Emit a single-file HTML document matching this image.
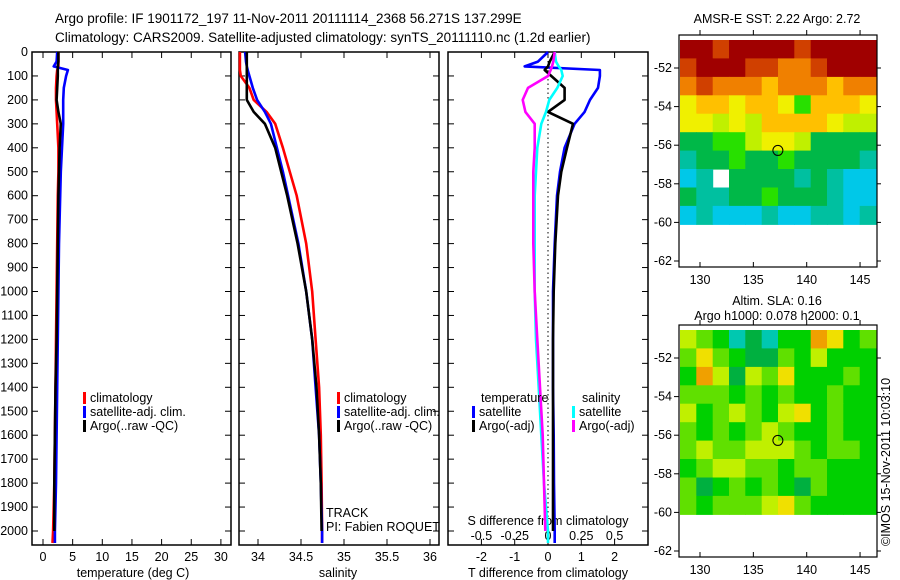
<!DOCTYPE html>
<html><head><meta charset="utf-8"><style>
html,body{margin:0;padding:0;background:#fff;}
svg{display:block;font-family:"Liberation Sans",sans-serif;}
text{font-size:12.5px;fill:#000;}
</style></head><body>
<svg id="chart" width="900" height="580" viewBox="0 0 900 580" xmlns="http://www.w3.org/2000/svg">
<text x="55" y="23" font-size="13.5" style="font-size:13.5px">Argo profile: IF 1901172_197 11-Nov-2011 20111114_2368 56.271S 137.299E</text>
<text x="55" y="42" style="font-size:13.5px">Climatology: CARS2009. Satellite-adjusted climatology: synTS_20111110.nc (1.2d earlier)</text>
<g id="g"></g>
</svg>
<script>
// depth levels (dbar)
const depths = [0,40,60,75,100,150,200,250,300,400,500,600,800,1000,1200,1400,1600,1800,2000,2050];
// temperature profiles
const tClim = [2.6,2.6,2.6,2.4,2.3,2.2,2.2,2.3,2.4,2.6,2.6,2.5,2.4,2.3,2.2,2.1,2.0,1.9,1.7,1.6];
const tSat  = [2.4,2.3,1.8,4.2,3.9,3.5,3.4,3.4,3.4,3.2,3.0,2.9,2.7,2.6,2.5,2.4,2.3,2.2,2.0,2.0];
const tArgo = [2.6,2.6,2.5,2.5,2.5,2.4,2.3,2.6,3.0,2.8,2.7,2.6,2.5,2.4,2.3,2.1,2.0,1.9,1.9,null];
// salinity profiles
const sClim = [33.79,33.79,33.79,33.79,33.8,33.9,33.95,34.1,34.2,34.29,34.37,34.45,34.56,34.63,34.67,34.71,34.73,34.74,34.745,34.745];
const sSat  = [33.85,33.86,33.87,33.88,33.9,33.94,33.99,34.08,34.15,34.22,34.29,34.35,34.47,34.56,34.63,34.67,34.71,34.73,34.745,34.745];
const sArgo = [33.87,33.87,33.87,33.87,33.87,33.87,33.87,33.95,34.08,34.2,34.27,34.34,34.46,34.56,34.63,34.68,34.71,34.73,34.74,null];
// difference profiles
const dTSat  = [0,-0.3,-0.7,1.56,1.56,1.5,1.26,1.1,0.8,0.5,0.36,0.27,0.2,0.15,0.15,0.15,0.17,0.18,0.2,0.2];
const dTArgo = [0.2,0.05,0,-0.1,0.1,0.5,0.5,0,0.75,0.57,0.4,0.3,0.22,0.17,0.15,0.15,0.15,0.15,0.15,null];
const dSSat  = [0.05,0.06,0.08,0.1,0.11,0.07,0.01,-0.015,-0.05,-0.08,-0.09,-0.1,-0.1,-0.1,-0.09,-0.07,-0.05,-0.03,0.0,0.0];
const dSArgo = [0.05,0.04,0.03,0.02,0,-0.15,-0.19,-0.17,-0.1,-0.1,-0.11,-0.11,-0.11,-0.1,-0.08,-0.06,-0.04,-0.03,-0.02,null];
// tick labels
const depthTicks = [0,100,200,300,400,500,600,700,800,900,1000,1100,1200,1300,1400,1500,1600,1700,1800,1900,2000];
const tTicks = [0,5,10,15,20,25,30];
const sTicks = [34,34.5,35,35.5,36];
const dTTicks = [-2,-1,0,1,2];
const dSTicks = ["-0.5","-0.25","0","0.25","0.5"];
const lonTicks = [130,135,140,145];
const latTicks = [-52,-54,-56,-58,-60,-62];
// SST map grid (color class per cell, -1 = no data)
const sstGrid = [
[10,10,9,10,10,10,10,9,10,10,10,10],
[9,10,10,10,9,9,8,8,9,10,10,10],
[8,9,8,8,8,7,8,8,8,7,8,8],
[6,7,7,6,7,7,6,4,7,7,7,6],
[6,6,5,6,5,7,7,7,7,6,5,5],
[3,3,4,4,5,6,6,5,3,3,3,3],
[2,3,3,4,3,3,4,3,3,3,3,2],
[1,2,-1,3,3,3,3,2,3,2,1,1],
[3,2,2,3,3,4,3,3,3,2,1,1],
[1,2,1,1,1,2,1,1,2,2,1,2]];
const slaGrid = [
[4,3,2,0,1,0,2,2,6,5,2,3],
[3,5,3,2,1,1,3,2,4,2,2,2],
[2,6,4,1,4,3,5,2,2,2,3,2],
[3,3,3,2,3,2,3,2,2,3,2,2],
[4,2,3,4,3,2,4,5,2,3,2,2],
[3,2,3,2,3,4,3,2,2,3,2,2],
[3,4,3,3,4,4,4,3,2,3,3,2],
[2,3,4,4,3,3,2,3,3,2,2,2],
[3,1,2,3,2,3,2,1,3,2,2,2],
[3,2,3,3,3,4,5,3,2,2,2,2]];
const sstColors = ["#0050ff","#00c8e8","#00c0a0","#00b848","#28e000","#c0f000","#f0f000","#ffc000","#f08000","#d04000","#a00000"];
const slaColors = ["#00c8b0","#00b040","#00d000","#60e000","#c0f000","#f0e000","#f0a000"];
const floatLon = 137.299, floatLat = -56.271;

const NS="http://www.w3.org/2000/svg";
const G=document.getElementById('g');
function el(tag,attrs,parent){const e=document.createElementNS(NS,tag);for(const k in attrs)e.setAttribute(k,attrs[k]);(parent||G).appendChild(e);return e;}
function txt(x,y,s,anchor,parent){const t=el('text',{x:x,y:y,'text-anchor':anchor||'start'},parent);t.textContent=s;return t;}

const yD = d => 52 + d*0.2395;
const TOP=52, BOT=545;

function panel(name,x0,x1){
  const r=el('rect',{x:x0,y:TOP,width:x1-x0,height:BOT-TOP,fill:'none',stroke:'#000','stroke-width':1.5});
  
  
  depthTicks.forEach(d=>{
    el('line',{x1:x0,x2:x0+6,y1:yD(d),y2:yD(d),stroke:'#000'});
    el('line',{x1:x1-6,x2:x1,y1:yD(d),y2:yD(d),stroke:'#000'});
  });
}
function profile(name,vals,xf,color){
  let pts=[];
  vals.forEach((v,i)=>{if(v!==null)pts.push(xf(v).toFixed(1)+','+yD(depths[i]).toFixed(1));});
  const p=el('polyline',{points:pts.join(' '),fill:'none',stroke:color,'stroke-width':2.6,'stroke-linejoin':'round'});
  
  
}
function legend(name,x,y,color,label){
  const g=el('g',{});
  
  
  el('rect',{x:x,y:y-10,width:3,height:12,fill:color},g);
  txt(x+7,y,label,'start',g);
}

// Panel 1: temperature
const xT = t => 43 + t*5.93;
panel('temperature-panel',32,231);
depthTicks.forEach(d=>{const t=txt(28,yD(d)+4,String(d),'end');});
tTicks.forEach(t=>{el('line',{x1:xT(t),x2:xT(t),y1:TOP,y2:TOP+6,stroke:'#000'});el('line',{x1:xT(t),x2:xT(t),y1:BOT-6,y2:BOT,stroke:'#000'});txt(xT(t),561,String(t),'middle');});
txt(133,577,'temperature (deg C)','middle');
profile('temp-climatology-line',tClim,xT,'#ff0000');
profile('temp-satellite-line',tSat,xT,'#0000ff');
profile('temp-argo-line',tArgo,xT,'#000000');
legend('legend-climatology',83,402,'#ff0000','climatology');
legend('legend-satellite-adj',83,416,'#0000ff','satellite-adj. clim.');
legend('legend-argo',83,430,'#000000','Argo(..raw -QC)');

// Panel 2: salinity
const xS = s => 258 + (s-34)*86;
panel('salinity-panel',239,439);
sTicks.forEach(s=>{el('line',{x1:xS(s),x2:xS(s),y1:TOP,y2:TOP+6,stroke:'#000'});el('line',{x1:xS(s),x2:xS(s),y1:BOT-6,y2:BOT,stroke:'#000'});txt(xS(s),561,String(s),'middle');});
txt(338,577,'salinity','middle');
profile('sal-climatology-line',sClim,xS,'#ff0000');
profile('sal-satellite-line',sSat,xS,'#0000ff');
profile('sal-argo-line',sArgo,xS,'#000000');
legend('legend-sal-climatology',337,402,'#ff0000','climatology');
legend('legend-sal-satellite',337,416,'#0000ff','satellite-adj. clim.');
legend('legend-sal-argo',337,430,'#000000','Argo(..raw -QC)');
txt(326,517,'TRACK');
txt(326,531,'PI: Fabien ROQUET');

// Panel 3: differences
const xDT = v => 548 + v*33.3;
const xDS = v => 548 + v*133.2;
panel('difference-panel',448,648);
el('line',{x1:548,x2:548,y1:TOP,y2:BOT,stroke:'#000','stroke-dasharray':'1.5,3'});
dTTicks.forEach(v=>{el('line',{x1:xDT(v),x2:xDT(v),y1:TOP,y2:TOP+6,stroke:'#000'});el('line',{x1:xDT(v),x2:xDT(v),y1:BOT-6,y2:BOT,stroke:'#000'});txt(xDT(v),561,String(v),'middle');});
dSTicks.forEach(v=>{txt(xDS(parseFloat(v)),540,v,'middle');});
txt(548,525,'S difference from climatology','middle');
txt(548,577,'T difference from climatology','middle');
profile('tdiff-satellite-line',dTSat,xDT,'#0000ff');
profile('tdiff-argo-line',dTArgo,xDT,'#000000');
profile('sdiff-satellite-line',dSSat,xDS,'#00ffff');
profile('sdiff-argo-line',dSArgo,xDS,'#ff00ff');
txt(481,402,'temperature');
txt(582,402,'salinity');
legend('legend-tdiff-satellite',472,416,'#0000ff','satellite');
legend('legend-tdiff-argo',472,430,'#000000','Argo(-adj)');
legend('legend-sdiff-satellite',572,416,'#00ffff','satellite');
legend('legend-sdiff-argo',572,430,'#ff00ff','Argo(-adj)');

// Maps
const xL = lon => 700 + (lon-130)*10.67;
function map(name,oy,grid,colors,titles){
  const yL = lat => oy + 68 + (-52-lat)*19.3;
  const g=el('g',{});
  
  
  const x0=680,x1=876,y0=yL(-50.55),y1=yL(-60.1);
  const rows=grid.length,cols=grid[0].length,cw=(x1-x0)/cols,rh=(y1-y0)/rows;
  grid.forEach((row,r)=>row.forEach((v,c)=>{
    if(v<0)return;
    el('rect',{x:(x0+c*cw).toFixed(1),y:(y0+r*rh).toFixed(1),width:(cw+0.6).toFixed(1),height:(rh+0.6).toFixed(1),fill:colors[v]},g);
  }));
  el('rect',{x:679,y:oy+35,width:198,height:232,fill:'none',stroke:'#000','stroke-width':1.2},g);
  lonTicks.forEach(l=>{
    el('line',{x1:xL(l),x2:xL(l),y1:oy+35,y2:oy+30,stroke:'#000'},g);
    el('line',{x1:xL(l),x2:xL(l),y1:oy+267,y2:oy+262,stroke:'#000'},g);
    txt(xL(l),oy+284,String(l),'middle',g);
  });
  latTicks.forEach(l=>{
    el('line',{x1:679,x2:674,y1:yL(l),y2:yL(l),stroke:'#000'},g);
    el('line',{x1:877,x2:881,y1:yL(l),y2:yL(l),stroke:'#000'},g);
    txt(672,yL(l)+4,String(l),'end',g);
  });
  const c=el('circle',{cx:xL(floatLon),cy:yL(floatLat),r:5,fill:'none',stroke:'#000','stroke-width':1},g);
  
  
  titles.forEach((t,i)=>txt(777,oy+23+i*15-(titles.length-1)*15+ (titles.length>1?15:0)-(titles.length>1?8:0),t,'middle',g));
}
map('sst-map',0,sstGrid,sstColors,['AMSR-E SST: 2.22 Argo: 2.72']);
map('sla-map',290,slaGrid,slaColors,['Altim. SLA: 0.16','Argo h1000: 0.078 h2000: 0.1']);
const cp=txt(0,0,'©IMOS 15-Nov-2011 10:03:10','middle');
cp.setAttribute('transform','translate(890,462) rotate(-90)');


</script>
</body></html>
